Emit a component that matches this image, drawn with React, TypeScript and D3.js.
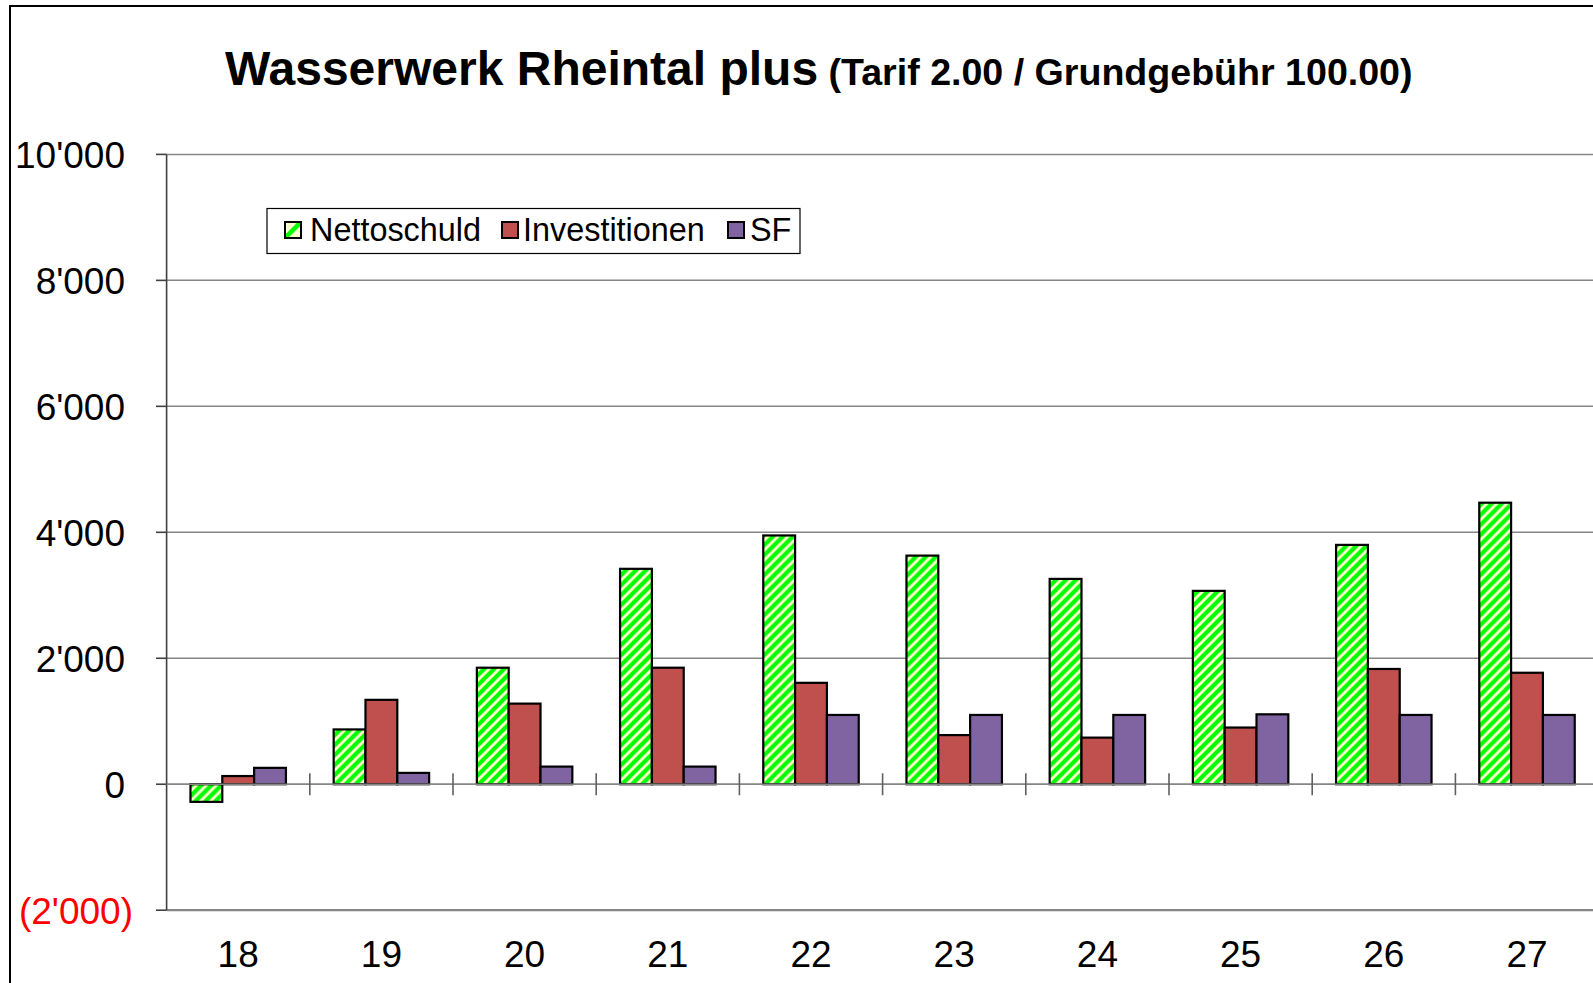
import React from "react";
import * as d3 from "d3";

const categories = ["18", "19", "20", "21", "22", "23", "24", "25", "26", "27"];
const seriesNames = ["Nettoschuld", "Investitionen", "SF"];
const nettoschuld = [-280, 870, 1850, 3420, 3950, 3630, 3260, 3070, 3800, 4470];
const investitionen = [130, 1340, 1280, 1850, 1610, 780, 740, 900, 1830, 1770];
const sf = [260, 180, 280, 280, 1100, 1100, 1100, 1110, 1100, 1100];
const yTicks = [-2000, 0, 2000, 4000, 6000, 8000, 10000];

const W = 1593;
const H = 983;
const FONT = "'Liberation Sans', Arial, Helvetica, sans-serif";

function fmt(v: number): string {
  const s = d3.format(",")(Math.abs(v)).replace(/,/g, "'");
  return v < 0 ? `(${s})` : s;
}

export default function App() {
  const plotLeft = 166.6;
  const bandW = 143.2;
  const plotRight = plotLeft + bandW * categories.length;
  const x = d3.scaleBand<string>().domain(categories).range([plotLeft, plotRight]).padding(0);
  const barW = bandW / 4.5;
  const gap = (bandW - 3 * barW) / 2;
  const xs = d3.scaleBand<string>().domain(seriesNames).range([gap, bandW - gap]).padding(0);
  const y = d3.scaleLinear().domain([-2000, 10000]).range([910.2, 154.4]);
  const y0 = y(0);

  const data = [nettoschuld, investitionen, sf];
  const fills = ["url(#hatch)", "#C0504D", "#8064A2"];

  return (
    <svg
      width={W}
      height={H}
      style={{ position: "fixed", left: 0, top: 0, background: "#fff", overflow: "hidden" }}
      fontFamily={FONT}
    >
      <defs>
        <pattern id="hatch" patternUnits="userSpaceOnUse" width={10} height={10}>
          <rect width={10} height={10} fill="#FFFFCC" />
          <path d="M-2,12 L12,-2 M-2,2 L2,-2 M8,12 L12,8" stroke="#00FF00" strokeWidth={4.2} />
        </pattern>
        <pattern id="hatchL" patternUnits="userSpaceOnUse" x={285} y={222} width={16} height={16}>
          <rect width={16} height={16} fill="#FFFFCC" />
          <path d="M-2,18 L18,-2" stroke="#00FF00" strokeWidth={4.5} />
        </pattern>
      </defs>

      <rect x={0} y={0} width={W} height={H} fill="#fff" />
      {/* outer chart border */}
      <rect x={10} y={6} width={W + 100} height={H + 100} fill="none" stroke="#000" strokeWidth={2} />

      {/* title */}
      <text x={225} y={85} fontWeight="bold" fontSize={48} fill="#000">
        Wasserwerk Rheintal plus
        <tspan fontSize={37.6}> (Tarif 2.00 / Grundgebühr 100.00)</tspan>
      </text>

      {/* gridlines */}
      {yTicks.map((t) => (
        <line
          key={"g" + t}
          x1={plotLeft}
          x2={plotRight}
          y1={y(t)}
          y2={y(t)}
          stroke="#868686"
          strokeWidth={t === -2000 ? 2.2 : 1.5}
        />
      ))}

      {/* y axis */}
      <line x1={plotLeft} x2={plotLeft} y1={y(10000)} y2={y(-2000)} stroke="#404040" strokeWidth={1.6} />
      {yTicks.map((t) => (
        <g key={"t" + t}>
          <line x1={156} x2={plotLeft} y1={y(t)} y2={y(t)} stroke="#404040" strokeWidth={1.6} />
          <text
            x={t < 0 ? 133 : 125}
            y={y(t) + 13.3}
            textAnchor="end"
            fontSize={37}
            fill={t < 0 ? "#FF0000" : "#000"}
          >
            {fmt(t)}
          </text>
        </g>
      ))}

      {/* bars */}
      {categories.map((c, i) => (
        <g key={"c" + c} transform={`translate(${x(c)},0)`}>
          {seriesNames.map((s, k) => {
            const v = data[k][i];
            const top = Math.min(y(v), y0);
            const h = Math.abs(y(v) - y0);
            return (
              <rect
                key={s}
                x={xs(s)}
                y={top}
                width={xs.bandwidth()}
                height={h}
                fill={fills[k]}
                stroke="#000"
                strokeWidth={2.2}
              />
            );
          })}
        </g>
      ))}

      {/* category axis at zero */}
      <line x1={plotLeft} x2={plotRight} y1={y0} y2={y0} stroke="#868686" strokeWidth={1.6} />
      {categories.slice(1).map((c) => (
        <line key={"xt" + c} x1={x(c)} x2={x(c)} y1={y0 - 11} y2={y0 + 11} stroke="#606060" strokeWidth={1.6} />
      ))}
      {categories.map((c) => (
        <text key={"xl" + c} x={(x(c) as number) + bandW / 2} y={966.5} textAnchor="middle" fontSize={37} fill="#000">
          {c}
        </text>
      ))}

      {/* legend */}
      <rect x={267} y={208.5} width={533} height={45} fill="#fff" stroke="#000" strokeWidth={1.2} />
      {[
        { name: seriesNames[0], sx: 285, tx: 310, fill: "url(#hatchL)" },
        { name: seriesNames[1], sx: 502, tx: 523, fill: fills[1] },
        { name: seriesNames[2], sx: 728, tx: 750, fill: fills[2] },
      ].map((it) => (
        <g key={"lg" + it.name}>
          <rect x={it.sx} y={222} width={16} height={16} fill={it.fill} stroke="#000" strokeWidth={2} />
          <text x={it.tx} y={240.5} fontSize={32.4} fill="#000">
            {it.name}
          </text>
        </g>
      ))}
    </svg>
  );
}
